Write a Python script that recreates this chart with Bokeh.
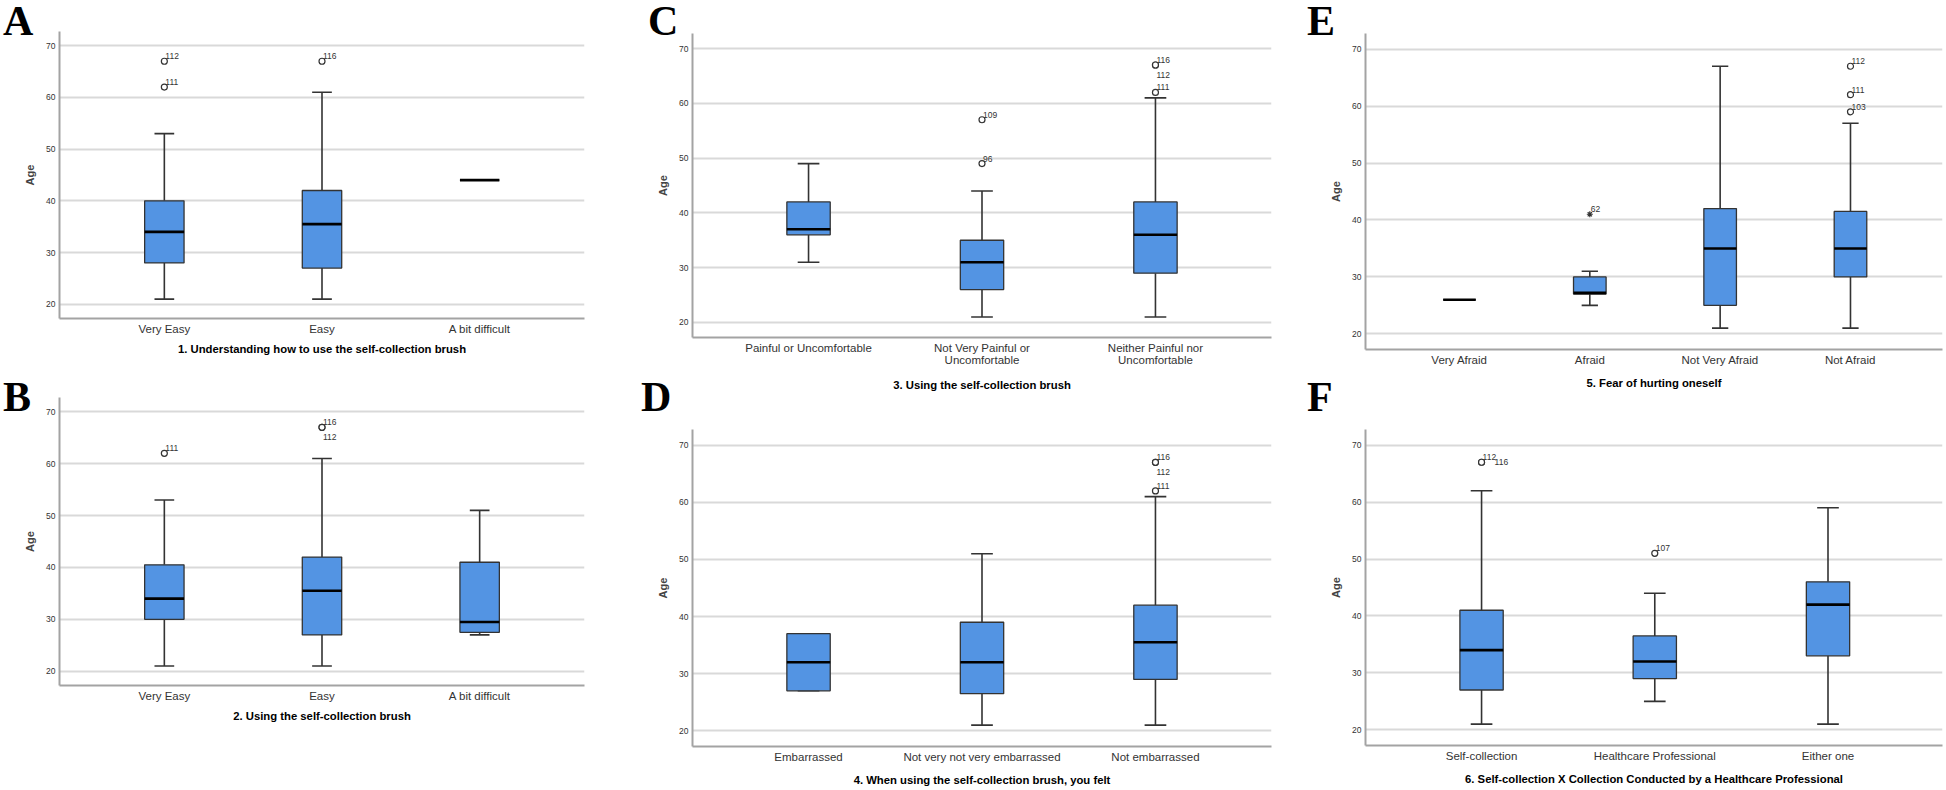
from bokeh.plotting import figure
from bokeh.layouts import row, column
from bokeh.models import FixedTicker, Range1d, Div
from bokeh.embed import file_html
from bokeh.resources import INLINE
from bokeh.core.properties import value

# ---------------- data ----------------
a_title = "1. Understanding how to use the self-collection brush"
a_cats = ["Very Easy", "Easy", "A bit difficult"]
a_lo = [21, 21, 44]
a_q1 = [28, 27, 44]
a_med = [34, 35.5, 44]
a_q3 = [40, 42, 44]
a_hi = [53, 61, 44]
a_out_cat = [0, 0, 1]
a_out_val = [67, 62, 67]
a_out_lab = ["112", "111", "116"]
a_out_pos = ["above", "above", "above"]
a_out_mark = ["circle", "circle", "circle"]

b_title = "2. Using the self-collection brush"
b_cats = ["Very Easy", "Easy", "A bit difficult"]
b_lo = [21, 21, 27]
b_q1 = [30, 27, 27.5]
b_med = [34, 35.5, 29.5]
b_q3 = [40.5, 42, 41]
b_hi = [53, 61, 51]
b_out_cat = [0, 1, 1]
b_out_val = [62, 67, 67]
b_out_lab = ["111", "116", "112"]
b_out_pos = ["above", "above", "below"]
b_out_mark = ["circle", "circle", "circle"]

c_title = "3. Using the self-collection brush"
c_cats = ["Painful or Uncomfortable", "Not Very Painful or\nUncomfortable", "Neither Painful nor\nUncomfortable"]
c_lo = [31, 21, 21]
c_q1 = [36, 26, 29]
c_med = [37, 31, 36]
c_q3 = [42, 35, 42]
c_hi = [49, 44, 61]
c_out_cat = [1, 1, 2, 2, 2]
c_out_val = [57, 49, 67, 67, 62]
c_out_lab = ["109", "96", "116", "112", "111"]
c_out_pos = ["above", "above", "above", "below", "above"]
c_out_mark = ["circle"] * 5

d_title = "4. When using the self-collection brush, you felt"
d_cats = ["Embarrassed", "Not very not very embarrassed", "Not embarrassed"]
d_lo = [27, 21, 21]
d_q1 = [27, 26.5, 29]
d_med = [32, 32, 35.5]
d_q3 = [37, 39, 42]
d_hi = [37, 51, 61]
d_out_cat = [2, 2, 2]
d_out_val = [67, 67, 62]
d_out_lab = ["116", "112", "111"]
d_out_pos = ["above", "below", "above"]
d_out_mark = ["circle"] * 3

e_title = "5. Fear of hurting oneself"
e_cats = ["Very Afraid", "Afraid", "Not Very Afraid", "Not Afraid"]
e_lo = [26, 25, 21, 21]
e_q1 = [26, 27, 25, 30]
e_med = [26, 27.2, 35, 35]
e_q3 = [26, 30, 42, 41.5]
e_hi = [26, 31, 67, 57]
e_out_cat = [1, 3, 3, 3]
e_out_val = [41, 67, 62, 59]
e_out_lab = ["62", "112", "111", "103"]
e_out_pos = ["above", "above", "above", "above"]
e_out_mark = ["asterisk", "circle", "circle", "circle"]

f_title = "6. Self-collection X Collection Conducted by a Healthcare Professional"
f_cats = ["Self-collection", "Healthcare Professional", "Either one"]
f_lo = [21, 25, 21]
f_q1 = [27, 29, 33]
f_med = [34, 32, 42]
f_q3 = [41, 36.5, 46]
f_hi = [62, 44, 59]
f_out_cat = [0, 0, 1]
f_out_val = [67, 67, 51]
f_out_lab = ["112", "116", "107"]
f_out_pos = ["above", "right", "above"]
f_out_mark = ["circle", "circle", "circle"]

panel_letters = ["A", "B", "C", "D", "E", "F"]

# ---------------- style ----------------
BOX_FILL = "#5394e3"
DARK = "#333333"
GRID = "#d9d9d9"
AXIS = "#a3a3a3"
SANS = "Liberation Sans"
BOXW = 0.25
CAPW = 0.125
OFFS = {"above": (1, -5), "below": (1, 10), "right": (13, 0)}


def make_panel(cats, lo, q1, med, q3, hi, oc, ov, ol, op, om, title,
               W, H, bl, br, bt, bb, xr, tstand):
    xs = list(range(len(cats)))
    p = figure(width=W, height=H, x_range=Range1d(*xr), y_range=Range1d(17.25, 72.75),
               output_backend="svg", toolbar_location=None,
               min_border_left=bl, min_border_right=br,
               min_border_top=bt, min_border_bottom=bb)
    p.outline_line_color = None
    p.background_fill_color = "white"
    p.border_fill_color = None
    p.xgrid.visible = False
    p.ygrid.grid_line_color = GRID
    p.ygrid.grid_line_width = 2

    # y axis
    p.yaxis.ticker = FixedTicker(ticks=[20, 30, 40, 50, 60, 70])
    p.yaxis.major_tick_line_color = None
    p.yaxis.minor_tick_line_color = None
    p.yaxis.major_tick_out = 0
    p.yaxis.major_tick_in = 0
    p.yaxis.axis_line_color = AXIS
    p.yaxis.axis_line_width = 2
    p.yaxis.major_label_text_font = SANS
    p.yaxis.major_label_text_font_size = "8.5px"
    p.yaxis.major_label_text_color = DARK
    p.yaxis.major_label_standoff = 4
    p.yaxis.axis_label = "Age"
    p.yaxis.axis_label_text_font = SANS
    p.yaxis.axis_label_text_font_style = "bold"
    p.yaxis.axis_label_text_font_size = "11px"
    p.yaxis.axis_label_standoff = 7

    # x axis
    p.xaxis.ticker = FixedTicker(ticks=xs)
    p.xaxis.major_label_overrides = {i: c for i, c in zip(xs, cats)}
    p.xaxis.major_tick_line_color = None
    p.xaxis.minor_tick_line_color = None
    p.xaxis.major_tick_out = 0
    p.xaxis.major_tick_in = 0
    p.xaxis.axis_line_color = AXIS
    p.xaxis.axis_line_width = 2
    p.xaxis.major_label_text_font = SANS
    p.xaxis.major_label_text_font_size = "11.5px"
    p.xaxis.major_label_text_color = DARK
    p.xaxis.major_label_text_line_height = 1.0
    p.xaxis.major_label_standoff = 4
    p.xaxis.axis_label = title
    p.xaxis.axis_label_text_font = SANS
    p.xaxis.axis_label_text_font_style = "bold"
    p.xaxis.axis_label_text_font_size = "11.3px"
    p.xaxis.axis_label_text_color = "black"
    p.xaxis.axis_label_standoff = tstand

    # whiskers
    p.segment(x0=xs, x1=xs, y0=q3, y1=hi, line_color=DARK, line_width=1.6)
    p.segment(x0=xs, x1=xs, y0=lo, y1=q1, line_color=DARK, line_width=1.6)
    cx0 = [x - CAPW / 2 for x in xs]
    cx1 = [x + CAPW / 2 for x in xs]
    p.segment(x0=cx0, x1=cx1, y0=hi, y1=hi, line_color=DARK, line_width=1.6)
    p.segment(x0=cx0, x1=cx1, y0=lo, y1=lo, line_color=DARK, line_width=1.6)
    # boxes
    p.vbar(x=xs, width=BOXW, bottom=q1, top=q3, fill_color=BOX_FILL,
           line_color=DARK, line_width=1.3)
    mx0 = [x - BOXW / 2 for x in xs]
    mx1 = [x + BOXW / 2 for x in xs]
    p.segment(x0=mx0, x1=mx1, y0=med, y1=med, line_color="black", line_width=2.6)

    # outliers
    p.scatter(x=oc, y=ov, marker=om, size=6, fill_color="white",
              line_color=DARK, line_width=1.2)
    p.text(x=oc, y=ov, text=ol,
           x_offset=[OFFS[k][0] for k in op], y_offset=[OFFS[k][1] for k in op],
           text_font=value(SANS), text_font_size="8.5px", text_color=DARK,
           text_align="left", text_baseline="alphabetic")
    return p


pa = make_panel(a_cats, a_lo, a_q1, a_med, a_q3, a_hi, a_out_cat, a_out_val, a_out_lab,
                a_out_pos, a_out_mark, a_title,
                640, 375, 59, 56, 31, 57, (-0.665, 2.665), 5)
pb = make_panel(b_cats, b_lo, b_q1, b_med, b_q3, b_hi, b_out_cat, b_out_val, b_out_lab,
                b_out_pos, b_out_mark, b_title,
                640, 365, 59, 56, 22, 55, (-0.665, 2.665), 5)
pc = make_panel(c_cats, c_lo, c_q1, c_med, c_q3, c_hi, c_out_cat, c_out_val, c_out_lab,
                c_out_pos, c_out_mark, c_title,
                655, 410, 52, 24, 33, 73, (-0.669, 2.669), 10)
pd_ = make_panel(d_cats, d_lo, d_q1, d_med, d_q3, d_hi, d_out_cat, d_out_val, d_out_lab,
                 d_out_pos, d_out_mark, d_title,
                 655, 380, 52, 24, 19, 44, (-0.669, 2.669), 8)
pe = make_panel(e_cats, e_lo, e_q1, e_med, e_q3, e_hi, e_out_cat, e_out_val, e_out_lab,
                e_out_pos, e_out_mark, e_title,
                650, 410, 70, 3, 33, 61, (-0.721, 3.706), 8)
pf = make_panel(f_cats, f_lo, f_q1, f_med, f_q3, f_hi, f_out_cat, f_out_val, f_out_lab,
                f_out_pos, f_out_mark, f_title,
                650, 380, 70, 3, 19, 45, (-0.67, 2.661), 8)

# panel letters: page positions (left, baseline) relative to an overlay div at x=1945
letter_pos = [(-2, 30), (-2, 406), (643, 30), (636, 406), (1302, 30), (1302, 406)]
DIV_X = 1945
spans = []
for t, (lx, base) in zip(panel_letters, letter_pos):
    spans.append(
        f'<div style="position:absolute; left:{lx - DIV_X}px; top:{base - 35}px; '
        f"font-family:'Liberation Serif'; font-weight:bold; font-size:42px; "
        f'line-height:42px; color:#000; white-space:nowrap; z-index:10;">{t}</div>')
letters_div = Div(text='<div style="position:relative; width:1px; height:790px;">'
                  + "".join(spans) + "</div>",
                  width=1, height=790, styles={"overflow": "visible", "z-index": "10"})

layout = row(column(pa, pb), column(pc, pd_), column(pe, pf), letters_div)
open("out.html", "w").write(file_html(layout, INLINE))
